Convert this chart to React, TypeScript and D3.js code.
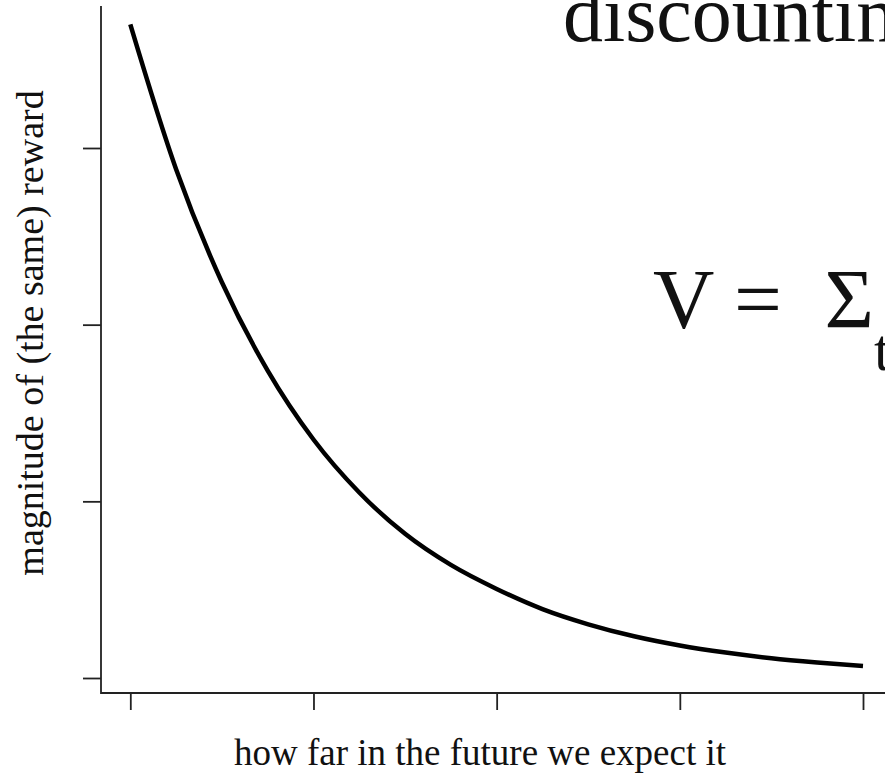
import React, { useEffect, useRef } from "react";
import * as d3 from "d3";

// Delay before the reward arrives (arbitrary time units)
const delays = [0, 0.25, 0.5, 0.75, 1, 1.25, 1.5, 1.75, 2, 2.25, 2.5, 2.75, 3, 3.25, 3.5, 3.75, 4];
// Perceived magnitude of the same reward at each delay
const magnitudes = [18.5, 14.4, 11.2, 8.7, 6.75, 5.25, 4.08, 3.2, 2.52, 1.95, 1.52, 1.18, 0.92, 0.72, 0.56, 0.44, 0.34];
const xTicks = [0, 1, 2, 3, 4];
const yTicks = [0, 5, 10, 15];

const W = 885;
const H = 776;
const FONT = "'Liberation Serif', 'Times New Roman', serif";

export default function App() {
  const ref = useRef<SVGSVGElement | null>(null);

  useEffect(() => {
    const svg = d3.select(ref.current);
    svg.selectAll("*").remove();

    const frameLeft = 101;
    const frameBottom = 693;
    const frameTop = 6;

    const x = d3.scaleLinear().domain([0, 4]).range([130.3, 863]);
    const y = d3.scaleLinear().domain([0, 15]).range([678, 148]);

    // L-shaped frame (left and bottom box sides)
    svg
      .append("path")
      .attr("d", `M${frameLeft},${frameTop}V${frameBottom}H${W + 10}`)
      .attr("fill", "none")
      .attr("stroke", "#222")
      .attr("stroke-width", 1.8);

    // Unlabelled tick marks
    const xAxis = d3
      .axisBottom(x)
      .tickValues(xTicks)
      .tickSize(17)
      .tickSizeOuter(0)
      .tickFormat(() => "");
    const gx = svg.append("g").attr("transform", `translate(0,${frameBottom})`).call(xAxis);
    gx.select(".domain").remove();
    gx.selectAll("line").attr("stroke", "#222").attr("stroke-width", 1.8);

    const yAxis = d3
      .axisLeft(y)
      .tickValues(yTicks)
      .tickSize(18)
      .tickSizeOuter(0)
      .tickFormat(() => "");
    const gy = svg.append("g").attr("transform", `translate(${frameLeft},0)`).call(yAxis);
    gy.select(".domain").remove();
    gy.selectAll("line").attr("stroke", "#222").attr("stroke-width", 1.8);

    // Discount curve
    const pts = delays.map((d, i) => [d, magnitudes[i]] as [number, number]);
    const line = d3
      .line<[number, number]>()
      .x((d) => x(d[0]))
      .y((d) => y(d[1]))
      .curve(d3.curveMonotoneX);
    svg
      .append("path")
      .attr("d", line(pts))
      .attr("fill", "none")
      .attr("stroke", "#000")
      .attr("stroke-width", 4.5)
      .attr("stroke-linejoin", "round");

    // Axis titles
    svg
      .append("text")
      .attr("x", 480)
      .attr("y", 765)
      .attr("text-anchor", "middle")
      .attr("font-family", FONT)
      .attr("font-size", 37)
      .attr("fill", "#111")
      .text("how far in the future we expect it");

    svg
      .append("text")
      .attr("transform", "translate(43,333) rotate(-90)")
      .attr("text-anchor", "middle")
      .attr("font-family", FONT)
      .attr("font-size", 38)
      .attr("fill", "#111")
      .text("magnitude of (the same) reward");

    // Title and formula
    svg
      .append("text")
      .attr("x", 563)
      .attr("y", 41)
      .attr("font-family", FONT)
      .attr("font-size", 80)
      .attr("fill", "#111")
      .text("discounting");

    const eq = svg
      .append("text")
      .attr("x", 653)
      .attr("y", 328)
      .attr("font-family", FONT)
      .attr("font-size", 85)
      .attr("fill", "#111")
      .style("white-space", "pre");
    eq.append("tspan").text("V =  \u03A3");
    eq.append("tspan").attr("font-size", 60).attr("dy", 42).text("t");
    eq.append("tspan").attr("font-size", 85).attr("dy", -42).text(" \u03B3");
  }, []);

  return (
    <svg
      ref={ref}
      width={W}
      height={H}
      style={{ position: "absolute", left: 0, top: 0, background: "#fff", overflow: "hidden" }}
    />
  );
}
